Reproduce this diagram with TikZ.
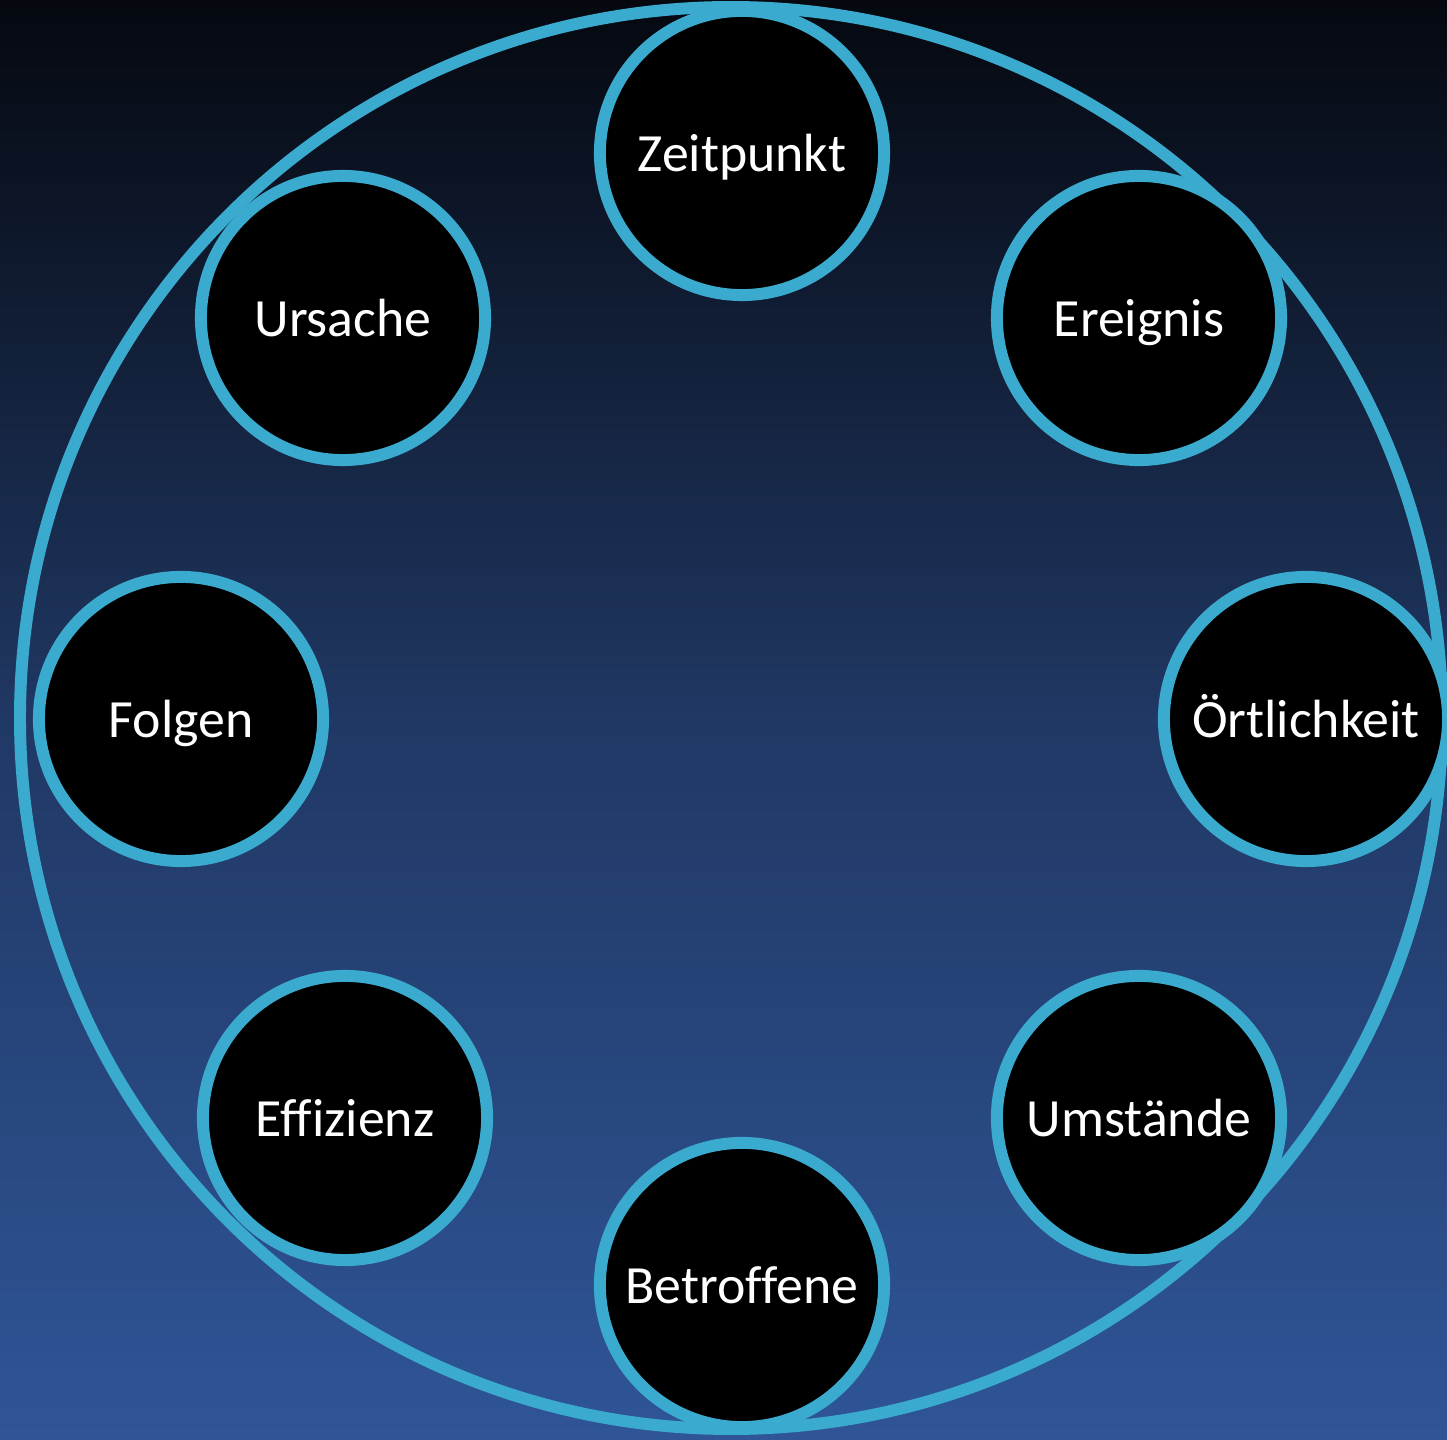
\documentclass[tikz,border=0pt]{standalone}
\usepackage{fontspec}
\setmainfont{Carlito}[Ligatures=CommonOff]
\usepackage{tikz}
\usetikzlibrary{positioning}
\usepackage{xcolor}

\definecolor{ringblue}{RGB}{58,170,206}
\definecolor{bgtop}{RGB}{5,8,15}
\definecolor{bgmid}{RGB}{32,56,100}
\definecolor{bgbottom}{RGB}{47,85,151}

\tikzset{
  topic/.style={circle, draw=ringblue, fill=black, line width=3.4pt,
    minimum size=2.84cm, inner sep=0pt, text=white,
    text height=10.6pt, text depth=0pt,
    font=\fontsize{15.3}{18}\selectfont}
}

\begin{document}
\begin{tikzpicture}[x=0.01cm, y=-0.01cm]
                % Background
                \useasboundingbox (0,0) rectangle (1447,1440);
                \shade[top color=bgtop, bottom color=bgbottom, middle color=bgmid]
                    (0,0) rectangle (1447,1440);

                % Outer ring
                \draw[ringblue, line width=3.4pt] (731,718) circle (711);

                % Topics
                \node[topic] (zeit)     at (742,153)  {Zeitpunkt};
                \node[topic] (ereignis) at (1139,318) {Ereignis};
                \node[topic] (ort)      at (1306,719) {Örtlichkeit};
                \node[topic] (umst)     at (1139,1118) {Umstände};
                \node[topic] (betr)     at (742,1285) {Betroffene};
                \node[topic] (effiz)    at (345,1118) {Effizienz};
                \node[topic] (folgen)   at (181,719)  {Folgen};
                \node[topic] (ursache)  at (343,318)  {Ursache};
            \end{tikzpicture}
\end{document}
